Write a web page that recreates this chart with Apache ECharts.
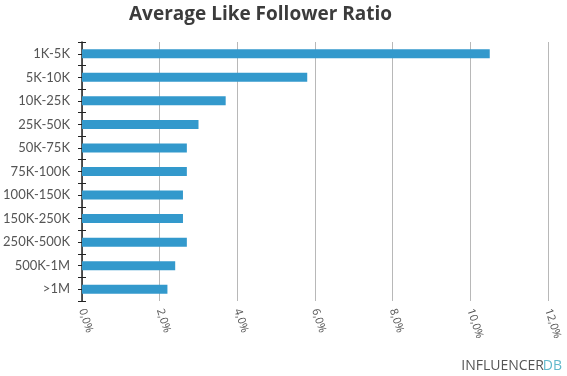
<!DOCTYPE html>
<html>
<head>
<meta charset="utf-8">
<script src="https://cdn.jsdelivr.net/npm/echarts@6/dist/echarts.min.js"></script>
<style>
  html, body { margin: 0; padding: 0; background: #fff; }
  #chart { width: 567px; height: 376px; }
</style>
</head>
<body>
<div id="chart"></div>
<script>
// follower buckets, top to bottom
var categories = ['1K-5K', '5K-10K', '10K-25K', '25K-50K', '50K-75K', '75K-100K',
    '100K-150K', '150K-250K', '250K-500K', '500K-1M', '>1M'];
// average like / follower ratio in %
var ratios = [10.5, 5.8, 3.7, 3.0, 2.7, 2.7, 2.6, 2.6, 2.7, 2.4, 2.2];
var xTicks = [0, 2, 4, 6, 8, 10, 12];

var fmt = function (v) {
    return v.toFixed(1).replace('.', ',') + '%';
};

var chart = echarts.init(document.getElementById('chart'));
chart.setOption({
    animation: false,
    title: {
        text: 'Average Like Follower Ratio',
        left: 124,
        top: 0,
        textStyle: { fontFamily: 'Open Sans', fontWeight: 'bold', fontSize: 19, color: '#3c3c3c' }
    },
    grid: { left: 82, right: 19, top: 42, bottom: 75 },
    xAxis: {
        type: 'value',
        min: xTicks[0],
        max: xTicks[xTicks.length - 1],
        interval: 2,
        axisLine: { show: false },
        axisTick: { show: false },
        splitLine: { lineStyle: { color: '#b8b8b8', width: 1 } },
        axisLabel: {
            formatter: fmt,
            rotate: -72,
            margin: 8,
            fontFamily: 'Open Sans',
            fontSize: 11,
            color: '#555'
        }
    },
    yAxis: [{
        type: 'category',
        data: categories,
        inverse: true,
        axisLine: { lineStyle: { color: '#222', width: 1.5 } },
        axisTick: { show: true, length: 4, lineStyle: { color: '#222' } },
        axisLabel: { fontFamily: 'Lato', fontSize: 13, color: '#555', margin: 12 }
    }, {
        type: 'category',
        data: categories,
        inverse: true,
        position: 'left',
        axisLine: { show: false },
        axisTick: { show: true, inside: true, length: 4, lineStyle: { color: '#222' } },
        axisLabel: { show: false }
    }, {
        type: 'category',
        data: categories,
        inverse: true,
        position: 'left',
        axisLine: { show: false },
        axisTick: { show: true, alignWithLabel: true, length: 4, lineStyle: { color: '#222' } },
        axisLabel: { show: false }
    }],
    series: [{
        type: 'bar',
        data: ratios,
        barWidth: 9,
        itemStyle: { color: '#3399cc' }
    }],
    graphic: [{
        type: 'text',
        right: 23,
        bottom: 3,
        style: { text: 'INFLUENCER', fontFamily: 'Open Sans', fontSize: 14, fill: '#555' }
    }, {
        type: 'text',
        right: 5,
        bottom: 3,
        style: { text: 'DB', fontFamily: 'Open Sans', fontSize: 14, fill: '#62b9cc' }
    }]
});
</script>
</body>
</html>
